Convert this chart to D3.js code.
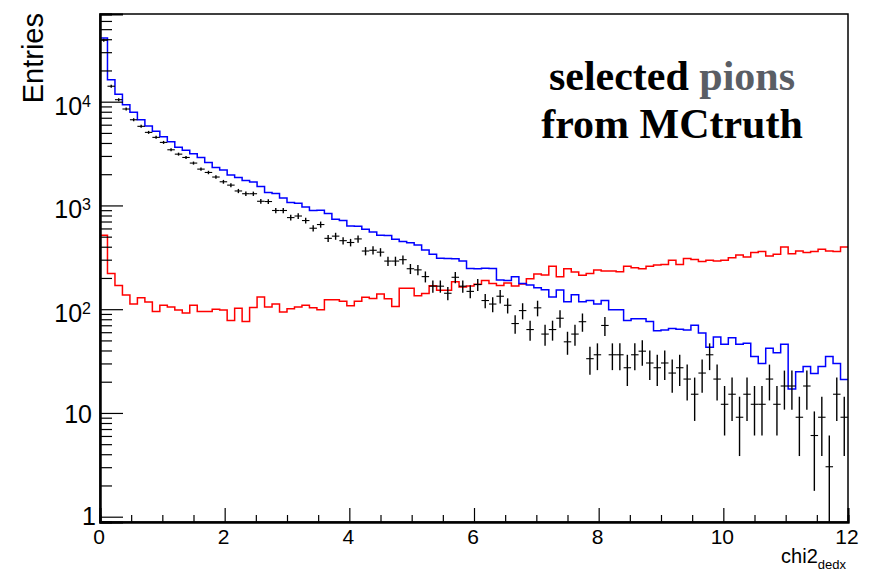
<!DOCTYPE html>
<html>
<head>
<meta charset="utf-8">
<script src="https://cdn.jsdelivr.net/npm/d3@7"></script>
<style>
  body { margin: 0; background: #fff; }
  svg { display: block; }
</style>
</head>
<body>
<script>
// Histogram binning: 100 bins on [0, 12]
const nBins = 100;
const xRange = [0, 12];
const xMajorTicks = [0, 2, 4, 6, 8, 10, 12];
const yDecades = [1, 10, 100, 1000, 10000];
const yTickLabels = [
  { base: "1", exp: "" },
  { base: "10", exp: "" },
  { base: "10", exp: "2" },
  { base: "10", exp: "3" },
  { base: "10", exp: "4" }
];

// Blue histogram (bin contents)
const blueHist = [
  41000, 16300, 11800, 9350, 7900, 6700, 5820, 5180, 4590, 4110,
  3630, 3410, 3150, 2900, 2600, 2320, 2200, 1970, 1860, 1740,
  1680, 1520, 1330, 1300, 1180, 1070, 1050, 967, 893, 899,
  835, 736, 714, 634, 630, 589, 555, 515, 512, 471,
  448, 438, 415, 372, 338, 309, 308, 307, 291, 247,
  246, 248, 247, 191, 189, 206, 177, 171, 161, 154,
  131, 153, 118, 138, 118, 121, 112, 121, 99, 99,
  78, 81, 81, 76, 62, 63, 65, 64, 63, 70,
  59, 43, 54, 46, 53, 46, 47, 35, 30, 42,
  38, 46, 17, 25, 28, 24, 28, 35, 30, 21
];

// Red histogram (bin contents)
const redHist = [
  515, 221, 169, 137, 112, 129, 117, 95, 109, 105,
  98, 92, 109, 95, 95, 100, 98, 78, 102, 76,
  104, 131, 105, 112, 94, 101, 105, 109, 103, 99,
  123, 123, 119, 108, 119, 130, 127, 140, 126, 106,
  159, 159, 135, 142, 168, 152, 152, 184, 164, 167,
  174, 189, 177, 169, 179, 167, 175, 197, 218, 214,
  260, 206, 246, 228, 212, 221, 238, 233, 233, 230,
  260, 251, 246, 260, 266, 270, 297, 270, 308, 302,
  288, 297, 291, 296, 314, 333, 318, 351, 359, 325,
  338, 397, 343, 363, 351, 359, 378, 363, 359, 397
];

// Weighted data: raw counts per bin and the per-entry weight
const dataCounts = [
  12900, 4650, 3450, 2805, 2210, 1910, 1670, 1495, 1337, 1135,
  1030, 957, 845, 739, 686, 620, 558, 518, 455, 428,
  428, 362, 360, 295, 295, 252, 261, 236, 199, 216,
  159, 167, 151, 145, 157, 120, 122, 117, 96, 96,
  99, 81, 79, 68, 55, 55, 47, 67, 55, 49,
  57, 40, 37, 44, 36, 24, 32, 21, 34, 19,
  21, 27, 16, 19, 25, 11, 12, 23, 12, 12,
  9, 12, 13, 10, 9, 10, 8, 9, 7, 5,
  8, 12, 7, 4, 5, 3, 5, 4, 4, 7,
  4, 6, 6, 3, 6, 2, 3, 1, 5, 3
];
const dataWeight = 3.03;

const W = 875, H = 571;
const frame = { left: 100, top: 14, right: 848, bottom: 522 };

const svg = d3.select("body").append("svg")
  .attr("width", W).attr("height", H);

const x = d3.scaleLinear().domain(xRange).range([frame.left, frame.right]);
const y = d3.scaleLog().domain([0.889, 70000]).range([frame.bottom, frame.top]);

const binW = (xRange[1] - xRange[0]) / nBins;
const edge = i => xRange[0] + i * binW;

svg.append("defs").append("clipPath").attr("id", "plotClip")
  .append("rect")
  .attr("x", frame.left).attr("y", frame.top)
  .attr("width", frame.right - frame.left)
  .attr("height", frame.bottom - frame.top);

const plot = svg.append("g").attr("clip-path", "url(#plotClip)");

// Step outlines
function stepPoints(vals) {
  const pts = vals.map((v, i) => [edge(i), v]);
  pts.push([edge(vals.length), vals[vals.length - 1]]);
  return pts;
}
const stepLine = d3.line()
  .x(d => x(d[0]))
  .y(d => y(d[1]))
  .curve(d3.curveStepAfter);

plot.append("path")
  .attr("d", stepLine(stepPoints(redHist)))
  .attr("fill", "none").attr("stroke", "#ff0000").attr("stroke-width", 1.5);

plot.append("path")
  .attr("d", stepLine(stepPoints(blueHist)))
  .attr("fill", "none").attr("stroke", "#0000ff").attr("stroke-width", 1.5);

// Data points with error bars (weighted counts, error = w * sqrt(n))
const pts = dataCounts.map((n, i) => {
  const v = n * dataWeight;
  const e = Math.sqrt(n) * dataWeight;
  return { i, v, lo: Math.max(v - e, 1e-3), hi: v + e };
});
const dg = plot.append("g").attr("stroke", "#000");
dg.selectAll("line.ex").data(pts).join("line")
  .attr("class", "ex")
  .attr("x1", d => x(edge(d.i))).attr("x2", d => x(edge(d.i + 1)))
  .attr("y1", d => y(d.v)).attr("y2", d => y(d.v))
  .attr("stroke-width", 1.1);
dg.selectAll("line.ey").data(pts).join("line")
  .attr("class", "ey")
  .attr("x1", d => x(edge(d.i) + binW / 2)).attr("x2", d => x(edge(d.i) + binW / 2))
  .attr("y1", d => Math.min(y(d.hi), y(d.v) - 1.5))
  .attr("y2", d => Math.min(Math.max(y(d.lo), y(d.v) + 1.5), frame.bottom + 5))
  .attr("stroke-width", 1.4);

// Frame
svg.append("rect")
  .attr("x", frame.left).attr("y", frame.top)
  .attr("width", frame.right - frame.left)
  .attr("height", frame.bottom - frame.top)
  .attr("fill", "none").attr("stroke", "#000").attr("stroke-width", 1.5);

// X axis ticks (inside)
const xMinor = d3.range(0, 12.0001, 0.5).filter(v => !xMajorTicks.includes(v));
const xAxisG = svg.append("g").attr("transform", `translate(0,${frame.bottom})`);
xAxisG.call(d3.axisBottom(x).tickValues(xMajorTicks).tickSize(-14).tickFormat(""));
const xMinorG = svg.append("g").attr("transform", `translate(0,${frame.bottom})`);
xMinorG.call(d3.axisBottom(x).tickValues(xMinor).tickSize(-7).tickFormat(""));

// Y axis ticks (inside)
const yMinor = [];
for (let d = 0.1; d <= 10000; d *= 10) {
  for (let k = 2; k <= 9; k++) {
    const v = Math.round(d * k * 1000) / 1000;
    if (v >= 0.889 && v <= 70000) yMinor.push(v);
  }
}
const yAxisG = svg.append("g").attr("transform", `translate(${frame.left},0)`);
yAxisG.call(d3.axisLeft(y).tickValues(yDecades).tickSize(-23).tickFormat(""));
const yMinorG = svg.append("g").attr("transform", `translate(${frame.left},0)`);
yMinorG.call(d3.axisLeft(y).tickValues(yMinor).tickSize(-12).tickFormat(""));

[xAxisG, xMinorG, yAxisG, yMinorG].forEach(g => {
  g.select(".domain").attr("stroke", "#000").attr("stroke-width", 2);
  g.selectAll(".tick line").attr("stroke", "#000").attr("stroke-width", 1.2);
});

const font = "'Liberation Sans', Arial, Helvetica, sans-serif";

// X tick labels
svg.append("g").selectAll("text").data(xMajorTicks).join("text")
  .attr("x", d => x(d) - 1).attr("y", 544)
  .attr("text-anchor", "middle")
  .attr("font-family", font).attr("font-size", 21)
  .attr("fill", "#000")
  .text(d => d);

// Y tick labels
const yl = svg.append("g");
yTickLabels.forEach((lab, k) => {
  const v = yDecades[k];
  const t = yl.append("text")
    .attr("font-family", font).attr("font-size", 25).attr("fill", "#000")
    .attr("text-anchor", "end");
  if (lab.exp === "") {
    const isOne = lab.base === "1";
    t.attr("x", isOne ? 96 : 92)
     .attr("y", y(v) + (isOne ? 8.5 : 10))
     .text(lab.base);
  } else {
    t.attr("x", 91).attr("y", y(v) + 13);
    t.append("tspan").text(lab.base);
    t.append("tspan").attr("font-size", 16).attr("dy", -8).text(lab.exp);
  }
});

// Axis titles
svg.append("text")
  .attr("transform", `translate(43,13) rotate(-90)`)
  .attr("text-anchor", "end")
  .attr("font-family", font).attr("font-size", 29)
  .attr("fill", "#000")
  .text("Entries");

const xt = svg.append("text")
  .attr("x", 846).attr("y", 563)
  .attr("text-anchor", "end")
  .attr("font-family", font).attr("font-size", 20)
  .attr("fill", "#000");
xt.append("tspan").text("chi2");
xt.append("tspan").attr("font-size", 13).attr("dy", 6).text("dedx");

// Caption
const serif = "'Liberation Serif', 'Times New Roman', Times, serif";
const cap1 = svg.append("text")
  .attr("x", 672).attr("y", 90)
  .attr("text-anchor", "middle")
  .attr("font-family", serif).attr("font-weight", "bold").attr("font-size", 42);
cap1.append("tspan").attr("fill", "#000").text("selected ");
cap1.append("tspan").attr("fill", "#5a5e65").text("pions");
svg.append("text")
  .attr("x", 672).attr("y", 138)
  .attr("text-anchor", "middle")
  .attr("font-family", serif).attr("font-weight", "bold").attr("font-size", 42)
  .attr("fill", "#000")
  .text("from MCtruth");
</script>
</body>
</html>
